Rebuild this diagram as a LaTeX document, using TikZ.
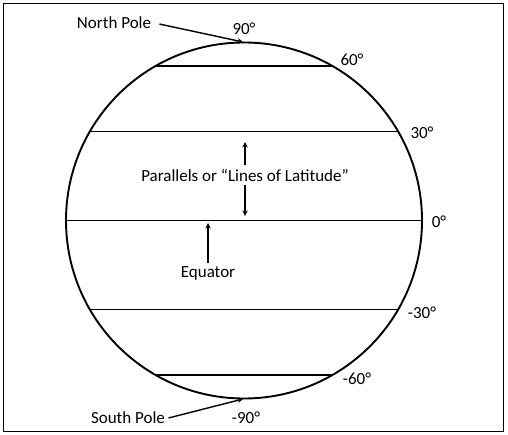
\documentclass[tikz,border=0pt]{standalone}
\usepackage{fontspec}
\setmainfont{Carlito}

\begin{document}
\begin{tikzpicture}[x=1pt,y=-1pt,font=\fontsize{17}{20}\selectfont]
 \useasboundingbox (0,0) rectangle (508,435); %全体の大きさ
 \draw[line width=0.8pt] (3,3) rectangle (503,431); %枠
 \coordinate (C) at (244,220.5); %地球の中心
 \draw[line width=1.9pt] (C) circle (178); %地球
 \foreach \lat in {60,30,0,-30,-60} {
  \coordinate (W\lat) at ({244-178*cos(\lat)},{220.5-178*sin(\lat)}); %緯線の左端
  \coordinate (E\lat) at ({244+178*cos(\lat)},{220.5-178*sin(\lat)}); %緯線の右端
  \draw[line width=1.9pt] (W\lat)--(E\lat); %緯線
 }
 \node (d90) at (244,29) {90°}; %緯度の目盛
 \node (d60) at (352,60) {60°};
 \node (d30) at (422,133) {30°};
 \node (d0) at (439,222) {0°};
 \node (dm30) at (422,313) {-30°};
 \node (dm60) at (357,379) {-60°};
 \node (dm90) at (246,418) {-90°};
 \coordinate (NP) at (243,42); %北極
 \coordinate (SP) at (243,399); %南極
 \node (npole) at (114,23) {North Pole};
 \node (spole) at (128,418) {South Pole};
 \draw[line width=1.4pt,->,>=stealth,shorten <=5pt] (npole.east)--(NP); %北極への矢印
 \draw[line width=1.4pt,->,>=stealth] (spole.east)--(SP); %南極への矢印
 \node (par) at (245,175) {Parallels or “Lines of Latitude”}; %緯線の説明
 \coordinate (ptop) at (245,142);
 \coordinate (pbot) at (245,216);
 \draw[line width=1.4pt,->,>=stealth] (par.north)--(ptop);
 \draw[line width=1.4pt,->,>=stealth] (par.south)--(pbot);
 \node (eq) at (208,273) {Equator}; %赤道の説明
 \coordinate (eqtop) at (208,223);
 \draw[line width=1.4pt,->,>=stealth] (eq.north)--(eqtop);
\end{tikzpicture}
\end{document}
